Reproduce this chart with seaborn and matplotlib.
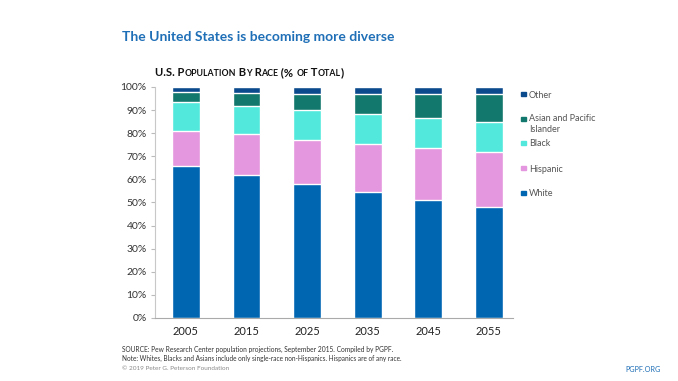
import numpy as np
import pandas as pd
import seaborn as sns
import matplotlib.pyplot as plt
from matplotlib.patches import Rectangle

years = ["2005", "2015", "2025", "2035", "2045", "2055"]
white = [66.0, 62.0, 58.0, 54.5, 51.0, 48.0]
hispanic = [15.0, 17.5, 19.0, 21.0, 22.5, 23.8]
black = [12.3, 12.3, 13.0, 13.0, 13.0, 13.0]
asian = [4.5, 5.7, 7.0, 8.5, 10.5, 12.0]
other = [2.2, 2.5, 3.0, 3.0, 3.0, 3.2]

groups = ["White", "Hispanic", "Black", "Asian and Pacific\nIslander", "Other"]
colors = ["#0066b2", "#e496de", "#52e8dc", "#12786d", "#0b4a8c"]

sns.set_theme(style="white")
plt.rcParams['font.family'] = ['Lato', 'DejaVu Sans']

df = pd.DataFrame({"year": years, "White": white, "Hispanic": hispanic,
                   "Black": black, "Asian": asian, "Other": other})
cols = ["White", "Hispanic", "Black", "Asian", "Other"]
cum = df[cols].cumsum(axis=1)
cum = cum.div(cum["Other"], axis=0) * 100
cum["year"] = df["year"]

fig = plt.figure(figsize=(6.78, 3.81), dpi=100)
ax = fig.add_axes([0.2286, 0.1654, 0.528, 0.6063])

# stacked bars: draw cumulative totals from tallest to shortest
for col, c in reversed(list(zip(cols, colors))):
    sns.barplot(data=cum, x="year", y=col, color=c, width=0.46,
                edgecolor="white", linewidth=1.0, ax=ax, saturation=1)

ax.set_ylim(0, 100)
ax.set_xlim(-0.51, 5.4)
ax.set_yticks(np.arange(0, 101, 10))
ax.set_yticklabels([f"{v}%" for v in range(0, 101, 10)], fontsize=7.5, color="#333333")
ax.set_xticks(range(len(years)))
ax.set_xticklabels(years, fontsize=8, color="#222222")
ax.set_xlabel("")
ax.set_ylabel("")
ax.tick_params(axis="y", length=3, color="#bbbbbb", width=0.8, left=True, pad=3)
ax.tick_params(axis="x", length=0, pad=6)
for s in ["top", "right"]:
    ax.spines[s].set_visible(False)
ax.spines["left"].set_color("#c8c8c8")
ax.spines["left"].set_linewidth(0.8)
ax.spines["bottom"].set_color("#aaaaaa")
ax.spines["bottom"].set_linewidth(0.8)

# title
fig.text(122 / 678, 1 - 37 / 381, "The United States is becoming more diverse",
         fontsize=10, fontweight="bold", color="#1f6fb7", va="center", ha="left")

# small-caps subtitle
pieces = [("U.S. P", 8.1), ("OPULATION", 6.3), (" B", 8.1), ("Y", 6.3), (" R", 8.1),
          ("ACE", 6.3), (" (% ", 8.1), ("OF", 6.3), (" T", 8.1), ("OTAL", 6.3), (")", 8.1)]
prev = None
for txt, fs in pieces:
    if prev is None:
        prev = fig.text(155 / 678, 1 - 76 / 381, txt, fontsize=fs, fontweight="bold",
                        color="#111111", ha="left", va="baseline")
    else:
        prev = ax.annotate(txt, xy=(1, 0), xycoords=prev, fontsize=fs, fontweight="bold",
                           color="#111111", ha="left", va="bottom")

# legend
leg_labels = ["Other", "Asian and Pacific\nIslander", "Black", "Hispanic", "White"]
leg_colors = colors[::-1]
mark_y = [94, 119, 143, 168, 193]
text_y = [94, 124, 143, 168, 193]
for lab, c, my, ty in zip(leg_labels, leg_colors, mark_y, text_y):
    fig.patches.append(Rectangle((521 / 678, 1 - (my + 2) / 381), 4.5 / 678, 4.5 / 381,
                                 transform=fig.transFigure, color=c, figure=fig))
    fig.text(529 / 678, 1 - ty / 381, lab, fontsize=6.5, color="#555555",
             ha="left", va="center_baseline" if "\n" not in lab else "center",
             linespacing=1.25)

# footer
fig.text(122 / 678, 1 - 349 / 381,
         "SOURCE: Pew Research Center population projections, September 2015. Compiled by PGPF.",
         fontsize=4.8, color="#333333", va="center")
fig.text(122 / 678, 1 - 358 / 381,
         "Note: Whites, Blacks and Asians include only single-race non-Hispanics. Hispanics are of any race.",
         fontsize=4.7, color="#333333", va="center")
fig.text(122 / 678, 1 - 369 / 381, "\u00a9 2019 Peter G. Peterson Foundation",
         fontsize=4.6, color="#8a8a8a", va="center")
fig.text(625 / 678, 1 - 369 / 381, "PGPF.ORG", fontsize=5.2, color="#1f6fb7", va="center")

fig.savefig("out.png", dpi=100)
